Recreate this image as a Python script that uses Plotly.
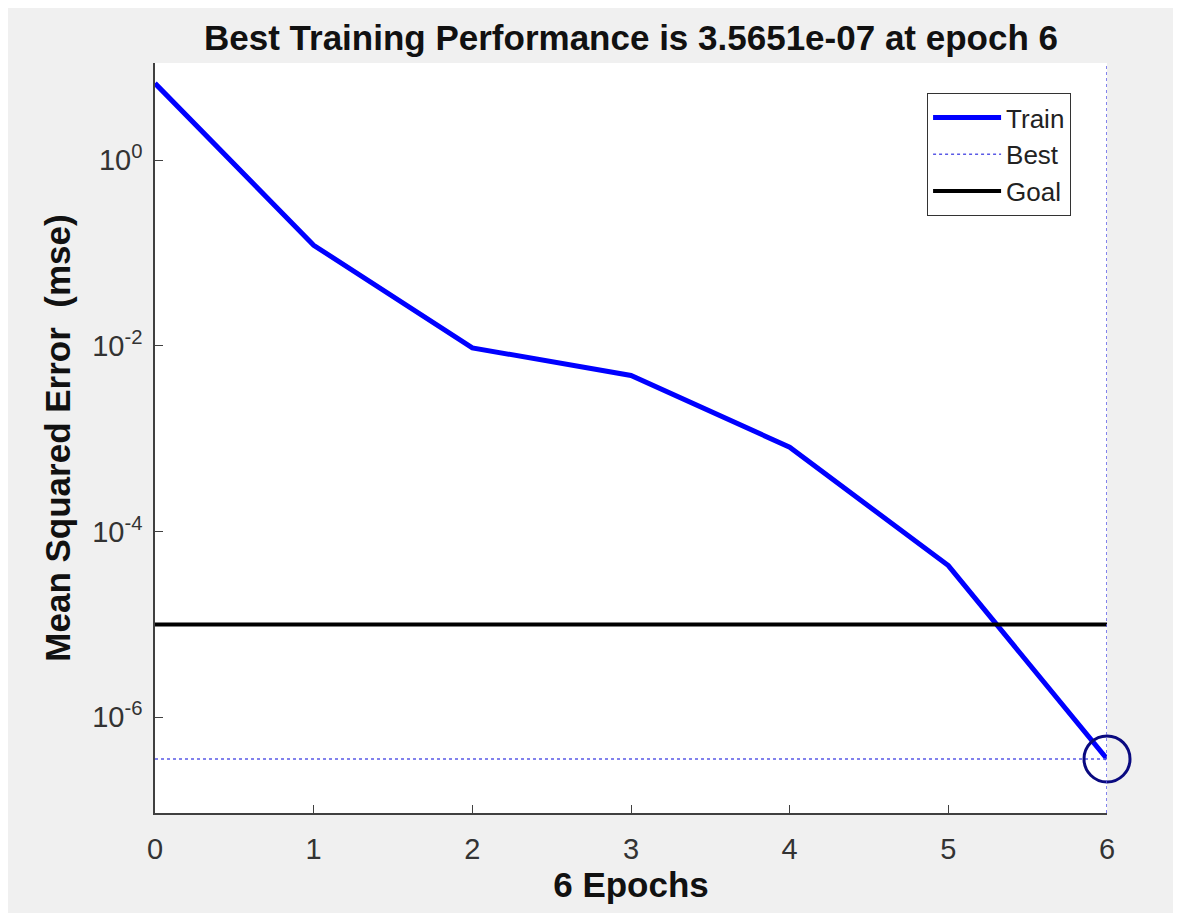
import plotly.graph_objects as go

epochs = [0, 1, 2, 3, 4, 5, 6]
train_mse = [6.7, 0.121, 0.0095, 0.0048, 8.1e-4, 4.3e-5, 3.5651e-7]
goal_value = 1e-5
best_epoch = 6
best_value = 3.5651e-07
y_tickvals = [1e0, 1e-2, 1e-4, 1e-6]
y_ticktext = ["10<sup>0</sup>", "10<sup>-2</sup>", "10<sup>-4</sup>", "10<sup>-6</sup>"]
x_tickvals = [0, 1, 2, 3, 4, 5, 6]

FONT = "Arial, 'Liberation Sans', Helvetica, sans-serif"
AXC = "#404040"
W, H = 1170, 905

fig = go.Figure()
fig.add_trace(go.Scatter(
    x=epochs, y=train_mse, mode="lines", name="Train",
    line=dict(color="#0000ff", width=5)))
fig.add_trace(go.Scatter(
    x=[epochs[0], epochs[-1]], y=[best_value, best_value], mode="lines", name="Best",
    line=dict(color="#5a5ae6", width=1.5, dash="dot")))
fig.add_trace(go.Scatter(
    x=[epochs[0], epochs[-1]], y=[goal_value, goal_value], mode="lines", name="Goal",
    line=dict(color="#000000", width=4)))
fig.add_trace(go.Scatter(
    x=[best_epoch], y=[best_value], mode="markers", showlegend=False, cliponaxis=False,
    marker=dict(symbol="circle-open", size=46, color="#0a0a80", line=dict(width=3, color="#0a0a80"))))
fig.add_shape(type="line", xref="x", yref="paper", x0=best_epoch, x1=best_epoch, y0=0, y1=1,
              line=dict(color="#5a5ae6", width=1.5, dash="dot"), layer="above")

fig.update_layout(
    width=W, height=H,
    paper_bgcolor="#f0f0f0", plot_bgcolor="#ffffff",
    margin=dict(l=147, r=71, t=55, b=100),
    font=dict(family=FONT, color="#333333"),
    title=dict(text="<b>Best Training Performance is 3.5651e-07 at epoch 6</b>",
               x=(147 + 476) / W, xanchor="center", y=1 - 30 / H, yanchor="middle",
               font=dict(size=35, color="#111111")),
    showlegend=True,
    legend=dict(x=0.811, y=0.96, xanchor="left", yanchor="top",
                bgcolor="#ffffff", bordercolor="#333333", borderwidth=1,
                itemwidth=68,
                font=dict(size=26, color="#222222")),
)
fig.update_xaxes(
    range=[0, 6], tickvals=x_tickvals, ticks="inside", ticklen=8, tickcolor=AXC,
    showline=True, linecolor=AXC, linewidth=1.5, showgrid=False, zeroline=False,
    tickfont=dict(size=29, color="#333333"), ticklabelstandoff=9,
    title=dict(text="<b>6 Epochs</b>", font=dict(size=35, color="#111111"), standoff=9))
fig.update_yaxes(
    type="log", range=[-7.03, 1.045], tickvals=y_tickvals, ticktext=y_ticktext,
    ticks="inside", ticklen=8, tickcolor=AXC,
    showline=True, linecolor=AXC, linewidth=1.5, showgrid=False, zeroline=False,
    tickfont=dict(size=29, color="#333333"), ticklabelstandoff=5,
    title=dict(text="<b>Mean Squared Error  (mse)</b>", font=dict(size=35, color="#111111"), standoff=11))

fig.write_html("out.html")
